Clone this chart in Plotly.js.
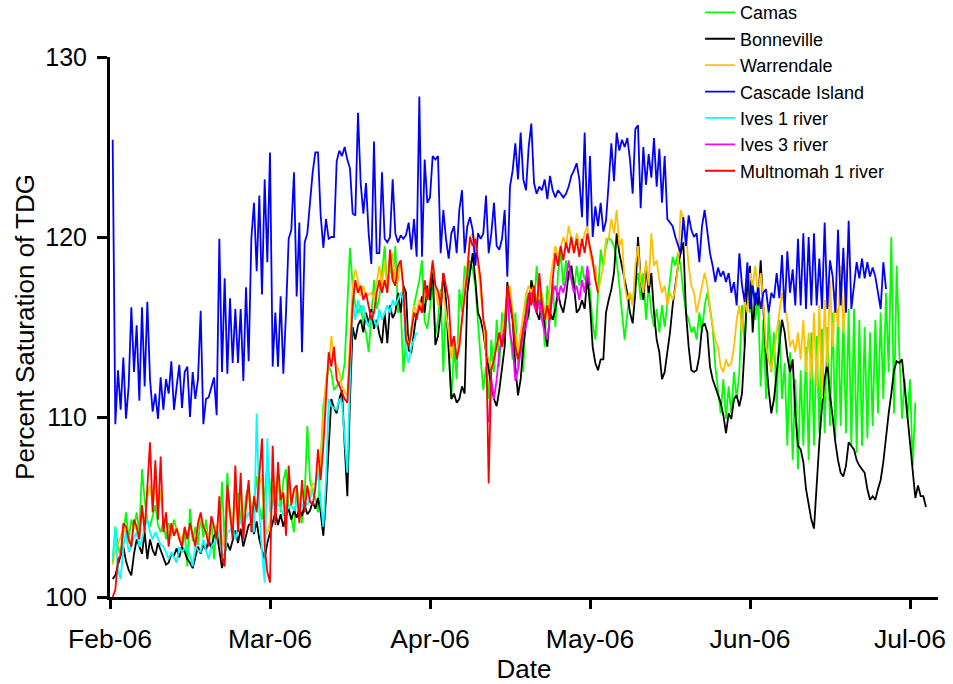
<!DOCTYPE html>
<html><head><meta charset="utf-8">
<script src="https://cdn.plot.ly/plotly-3.0.1.min.js"></script>
<style>html,body{margin:0;padding:0;background:#fff}#chart{width:953px;height:684px}</style>
</head><body><div id="chart"></div>
<script>
// ---- data (12-hourly readings of percent TDG saturation, 2006) ----
const seriesNames = ['Camas','Bonneville','Warrendale','Cascade Island','Ives 1 river','Ives 3 river','Multnomah 1 river'];
const sampleHours = 12;
const seriesStart = ['2006-02-01 12:00','2006-02-01 12:00','2006-02-01 12:00','2006-02-01 12:00','2006-02-01 12:00','2006-04-13 00:00','2006-02-01 12:00'];

const camas = [
101.9,103.9,102.8,102.3,103.5,104.7,103.2,104.3,103.8,104.7,
103.6,107.1,105.4,104.2,103.9,104.6,105.1,104.0,103.6,104.2,
103.2,104.1,103.4,104.3,103.7,103.4,102.8,103.6,101.7,104.9,
103.1,103.9,102.9,104.5,103.3,104.3,103.0,104.4,102.1,104.0,
102.9,106.4,102.8,106.9,104.5,104.1,105.3,105.8,104.3,103.9,
105.6,106.2,104.7,105.4,106.7,105.0,104.3,105.6,107.6,106.2,
105.1,105.8,106.9,104.7,106.5,107.1,104.9,104.4,103.6,106.2,
105.1,104.1,105.6,109.5,106.5,105.8,105.5,104.7,107.5,110.6,
111.7,112.8,112.5,111.5,111.7,111.9,112.1,113.0,116.4,119.4,
117.3,116.2,115.8,116.2,115.2,114.7,113.6,115.8,117.6,116.0,
116.7,118.0,119.5,117.1,118.4,117.6,119.5,115.8,116.2,112.5,
114.3,113.9,114.9,116.2,116.9,117.6,118.7,115.3,114.9,116.0,
117.3,114.5,115.4,117.1,112.5,116.5,113.4,111.0,113.9,112.1,
117.1,115.8,118.4,117.3,118.7,118.2,117.3,115.0,113.2,111.5,
112.8,111.0,114.3,112.5,115.4,112.8,115.8,113.9,116.9,114.7,
113.2,115.8,112.8,114.7,112.5,116.9,115.4,117.6,116.2,118.4,
116.0,116.9,113.9,117.3,115.8,117.6,115.0,118.0,119.1,117.3,
118.7,117.6,118.4,116.9,118.4,117.3,118.4,117.6,118.0,117.0,
115.2,114.3,116.5,119.3,118.4,119.5,120.0,119.8,119.5,118.7,
117.3,115.8,114.3,115.8,116.9,116.2,117.3,118.0,116.5,118.0,
115.4,117.3,115.8,115.0,116.0,114.7,116.2,115.0,116.5,117.6,
118.9,118.4,119.1,118.4,116.9,115.8,115.4,114.7,115.0,114.3,
115.8,114.7,116.2,116.9,116.0,115.0,112.8,111.3,110.2,112.1,
109.9,111.7,110.2,112.5,111.0,112.5,116.2,113.9,117.6,115.8,
117.6,115.4,116.7,111.7,115.4,111.0,115.8,112.5,114.7,110.2,
115.4,111.0,113.0,108.4,113.6,107.6,112.1,107.1,112.6,108.4,
113.9,107.6,114.7,108.4,114.5,109.1,114.9,109.1,115.0,109.5,
115.8,108.8,116.0,109.5,115.8,109.1,116.0,108.4,116.0,108.0,
115.4,108.4,115.0,108.8,114.7,109.5,115.4,110.2,115.8,111.0,
116.9,112.5,120.0,110.2,118.4,113.6,109.9,112.1,109.9,112.1,
107.3,110.8];

const bonneville = [
101.0,101.2,101.8,102.3,102.8,102.0,101.5,101.2,102.4,103.2,
102.8,102.4,103.6,102.1,103.2,102.6,102.3,103.0,102.6,102.2,
101.8,101.9,102.4,102.3,102.7,102.2,102.8,102.5,102.1,101.9,
101.6,102.2,102.8,102.4,102.9,102.6,103.2,102.7,103.4,103.6,
102.6,101.6,102.4,103.0,102.6,103.2,103.7,103.0,103.8,102.8,
103.5,104.0,104.1,103.5,104.2,103.2,102.6,102.1,103.0,103.6,
104.2,104.7,104.0,104.6,103.9,104.5,104.9,104.3,104.8,104.4,
104.9,104.5,105.1,104.6,104.8,105.3,104.9,105.5,104.7,103.4,
105.5,108.4,111.0,110.5,110.2,111.0,111.5,108.4,105.6,111.0,
115.0,114.3,115.1,115.4,114.7,115.8,115.2,116.0,114.9,115.4,
114.6,114.1,115.8,114.1,116.2,115.5,115.8,116.9,115.8,117.3,
116.9,113.7,113.6,114.7,115.8,116.0,116.7,115.8,117.3,116.5,
118.4,114.0,114.5,115.8,118.0,116.5,113.6,111.0,111.3,110.8,
111.0,111.7,111.3,116.9,118.0,119.1,117.6,115.8,115.4,114.7,
113.6,112.6,111.7,111.0,110.6,111.5,112.8,113.9,117.5,116.2,
115.4,112.8,111.2,112.1,113.9,115.2,115.8,117.6,116.9,115.8,
115.4,116.7,115.0,113.9,115.8,115.4,116.0,116.9,116.2,115.8,
116.7,118.0,118.4,117.3,115.8,116.0,116.5,116.0,117.8,116.2,
113.9,113.0,112.6,113.2,113.2,115.8,116.5,117.1,118.0,120.2,
119.1,118.4,117.6,116.9,115.8,115.2,116.9,120.0,117.6,116.5,
118.4,116.9,118.0,115.8,114.3,113.6,112.1,112.5,113.6,114.7,
116.2,117.3,118.4,119.1,119.7,115.8,113.9,112.6,112.5,112.6,
113.4,115.0,115.2,114.7,112.8,112.1,111.7,111.3,110.8,110.1,
109.1,110.2,109.9,111.0,111.2,110.6,111.3,113.9,117.3,118.4,
114.7,116.9,116.2,118.7,115.8,113.4,111.5,110.2,111.0,112.5,
114.3,115.4,114.7,113.4,112.5,113.2,110.2,108.4,108.2,107.5,
106.0,105.1,104.3,103.8,106.5,108.6,110.6,112.1,113.0,111.2,
110.0,108.6,107.6,106.9,106.7,107.3,108.6,108.4,108.2,107.6,
107.3,107.1,106.9,106.0,105.4,105.6,105.4,106.0,106.5,107.5,
109.0,110.2,111.3,112.6,113.1,113.0,113.2,111.6,110.2,108.4,
107.0,105.5,106.2,105.6,105.6,105.0];

const warrendale = [
101.8,102.5,102.9,103.3,103.8,103.6,103.0,103.2,104.0,103.7,
103.5,104.8,104.0,105.6,106.2,105.0,106.5,104.6,106.0,104.0,
104.5,103.3,104.0,103.6,103.9,103.4,103.2,103.8,103.4,104.0,
103.6,103.1,103.9,104.4,103.9,103.7,103.2,104.3,103.9,103.5,
104.9,103.0,102.8,105.5,104.5,103.6,106.2,104.0,106.0,103.8,
105.0,105.9,104.2,105.3,104.9,106.2,106.8,104.0,103.5,104.2,
106.2,105.0,106.5,105.5,105.8,104.5,106.4,105.3,105.8,106.0,
104.9,106.0,105.2,106.0,105.6,106.3,106.3,107.0,107.5,110.0,
112.1,112.8,114.5,113.2,112.8,112.5,111.7,111.4,111.2,114.3,
117.3,118.2,117.6,116.7,117.3,116.7,116.8,116.9,116.5,117.6,
118.4,117.3,118.7,116.9,118.4,119.1,117.3,117.6,118.7,116.9,
114.7,113.9,114.7,116.2,115.8,116.5,115.8,117.3,116.5,117.6,
118.4,117.3,116.2,116.9,116.9,115.8,114.7,113.2,114.3,113.4,
114.3,115.4,117.3,118.4,120.0,120.2,119.9,118.4,117.3,115.4,
113.6,113.2,112.8,113.2,114.0,114.3,114.7,115.8,116.5,117.3,
115.8,114.7,113.6,114.7,115.8,116.8,117.3,116.9,117.3,116.5,
116.7,116.9,115.8,115.4,117.5,118.4,119.5,118.9,119.5,120.0,
119.5,120.6,119.9,119.1,120.2,119.6,119.5,120.2,120.6,119.1,
118.4,118.4,116.9,117.6,118.4,119.9,119.9,121.0,120.2,121.5,
119.5,119.9,117.3,116.5,116.9,116.2,118.4,119.5,117.6,116.9,
118.7,117.3,120.2,118.4,118.7,117.6,116.9,117.3,116.2,116.9,
116.5,117.1,118.4,121.5,121.0,120.2,118.4,117.3,116.9,115.8,
116.5,117.3,118.0,117.3,116.2,115.0,114.3,113.9,112.8,112.5,
113.2,112.8,113.0,113.9,115.4,116.2,114.7,116.5,115.8,118.0,
117.3,118.4,116.7,118.0,116.5,113.9,113.2,112.6,113.6,114.7,
115.8,116.9,116.2,115.4,113.9,114.3,113.6,114.7,113.2,115.4,
112.5,114.7,112.1,115.8,111.7,116.2,111.0,116.5,112.8,117.6,
113.9,116.9,115.0,118.4,114.7,118.0,119.6];

const cascadeIsland = [
125.4,109.6,112.6,110.4,113.3,109.9,111.7,116.1,112.5,115.1,
110.9,116.1,111.7,116.4,112.1,110.3,111.3,109.9,112.2,110.4,
112.1,111.3,113.1,110.4,111.7,112.9,110.5,112.5,112.8,110.0,
112.5,111.0,112.1,115.9,109.6,111.0,111.1,111.6,112.2,110.1,
119.9,112.5,117.7,112.4,116.6,113.0,116.0,113.0,116.0,112.0,
117.2,113.1,119.9,121.9,118.1,122.3,116.8,123.2,118.6,124.7,
112.8,115.8,112.8,116.7,112.4,115.8,119.9,120.4,123.6,116.7,
120.8,113.6,119.7,120.2,122.1,123.6,124.7,124.7,121.2,119.4,
121.0,119.9,120.0,120.0,124.2,124.8,124.5,125.0,124.3,123.8,
121.3,121.2,126.9,123.0,121.3,123.0,120.2,118.5,125.3,119.1,
119.1,123.6,119.9,119.7,120.0,123.2,120.2,119.7,120.1,119.9,
120.1,120.8,119.3,121.0,118.9,127.8,118.9,124.3,121.9,122.2,
124.5,124.3,124.5,119.1,121.5,119.9,118.8,120.2,120.6,119.1,
121.5,122.6,119.1,120.6,121.1,120.4,118.4,120.2,119.9,120.2,
122.3,119.1,120.2,121.9,119.5,119.3,119.9,121.5,117.8,122.8,
123.7,125.2,123.2,125.8,123.2,122.6,125.0,126.3,123.0,122.4,
122.8,122.6,123.2,122.1,123.4,122.6,122.2,122.6,122.4,122.2,
122.4,122.8,123.4,123.7,124.1,123.2,121.1,125.8,120.6,124.5,
120.0,121.7,120.6,121.9,120.3,120.9,123.0,125.2,123.1,125.8,
124.8,125.4,125.0,125.5,124.3,122.4,126.0,126.2,121.6,125.0,
122.9,124.6,123.3,125.5,122.8,124.9,121.9,124.5,121.0,120.8,
120.6,120.0,119.5,119.1,121.1,119.5,121.2,120.4,120.0,120.2,
118.6,120.6,121.5,120.2,119.1,118.4,117.5,118.3,117.8,118.1,
117.5,118.0,116.9,117.5,116.2,119.1,117.3,116.4,118.6,116.0,
117.3,116.2,117.2,116.0,116.9,117.1,115.8,116.9,116.6,118.0,
116.6,119.0,115.8,119.2,116.9,118.2,116.2,119.9,116.2,120.2,
116.0,120.0,116.2,120.2,116.2,118.8,116.0,120.8,116.0,118.7,
117.8,115.8,120.4,116.2,119.4,115.8,120.9,116.0,117.3,118.6,
117.7,118.8,117.7,118.6,117.8,118.3,117.8,116.9,116.0,118.6,
117.1];

const ives1River = [
102.1,103.9,101.4,101.0,102.8,103.6,102.5,102.8,103.3,103.6,
102.8,103.2,103.9,104.3,103.6,103.2,103.6,103.2,102.9,102.8,
102.5,102.1,102.5,102.2,101.9,102.8,102.5,102.7,102.8,102.3,
101.7,102.8,102.6,102.5,103.2,102.6,102.1,102.8,103.0,103.2,
103.6,102.4,102.1,103.6,103.7,103.9,103.2,103.8,104.3,103.6,
104.4,104.7,104.1,103.6,110.2,104.7,102.5,100.8,108.8,104.7,
105.1,105.6,105.1,105.0,104.5,104.7,105.0,105.1,104.8,105.2,
105.4,105.0,105.3,105.1,105.5,105.8,106.2,106.9,105.4,103.9,
106.5,111.0,110.6,110.5,110.4,111.0,110.8,108.8,106.9,112.1,
116.5,115.4,116.5,115.8,116.2,115.4,115.0,115.8,115.4,115.0,
116.0,115.4,115.8,116.2,115.8,116.5,116.2,116.6,116.9,116.5,
113.6,113.0,113.9,114.3,114.7];

const ives3River = [
109.7,112.1,111.0,112.1,113.6,114.3,115.0,116.9,114.7,113.9,
112.0,112.6,113.6,114.7,115.0,116.5,116.9,116.2,115.8,116.5,
115.4,114.7,114.3,115.8,116.9,117.3,116.5,117.3,116.9,117.6,
118.7,117.6,116.9,117.3,116.5,117.6,116.9,118.4,117.3];

const multnomah1River = [
100.0,100.4,102.1,102.3,104.1,103.9,103.2,102.8,104.3,103.9,
103.2,105.1,103.6,105.8,108.6,104.7,107.6,104.3,107.8,103.6,
104.7,102.8,104.1,103.4,103.8,103.2,102.8,103.9,103.2,104.1,
103.5,102.8,104.1,104.7,103.9,103.6,102.8,104.5,103.9,103.2,
105.6,102.1,101.7,106.2,104.7,103.2,107.3,103.6,106.9,103.2,
105.1,106.5,103.6,105.6,104.7,106.9,108.8,102.8,101.4,100.8,
108.4,104.0,107.5,105.4,105.8,103.4,107.3,105.1,106.0,106.2,
104.1,106.5,104.7,106.2,105.3,105.1,106.0,108.2,106.5,108.4,
111.2,113.6,112.8,113.9,112.1,111.7,111.3,111.0,110.8,113.6,
116.2,117.6,116.9,117.3,116.5,116.9,116.2,115.4,115.8,116.9,
117.6,116.9,117.6,116.9,119.3,117.6,117.3,118.4,118.7,117.3,
114.3,113.9,114.7,115.8,115.4,116.2,115.8,117.6,116.5,117.3,
118.7,117.3,117.0,116.2,118.0,117.3,116.5,113.9,114.5,113.2,
113.9,115.4,116.7,118.0,120.0,119.5,119.9,118.7,117.6,115.4,
114.7,106.3,112.6,113.2,113.9,114.7,113.9,114.7,117.3,116.5,
115.4,113.9,113.2,113.9,115.0,115.8,116.9,116.2,117.3,115.8,
118.0,116.2,115.4,116.2,115.4,117.6,119.1,118.4,119.5,118.7,
119.7,119.1,120.0,119.1,119.9,118.9,119.9,119.1,120.2,119.5,
118.7,117.6,116.9];

const tickDates = ['2006-02-01','2006-03-03','2006-04-02','2006-05-02','2006-06-01','2006-07-01'];
const tickLabels = ['Feb-06','Mar-06','Apr-06','May-06','Jun-06','Jul-06'];
const yTicks = [100,110,120,130];

// ---- styles ----
const seriesValues = [camas, bonneville, warrendale, cascadeIsland, ives1River, ives3River, multnomah1River];
const seriesColors = ['#00FF00','#000000','#FFC000','#0000FF','#00FFFF','#FF00FF','#FF0000'];

function timeAxis(start, n){
  const t0 = Date.parse(start.replace(' ','T') + ':00Z');
  const out = [];
  for (let i = 0; i < n; i++) {
    out.push(new Date(t0 + i*sampleHours*3600e3).toISOString().slice(0,16).replace('T',' '));
  }
  return out;
}

const traces = seriesNames.map((name, k) => ({
  type: 'scatter', mode: 'lines', name: name,
  x: timeAxis(seriesStart[k], seriesValues[k].length),
  y: seriesValues[k],
  line: {color: seriesColors[k], width: 1.8}
}));

const FONT = '"Liberation Sans", Arial, Helvetica, sans-serif';
const layout = {
  width: 953, height: 684,
  margin: {l: 110, r: 15, t: 57, b: 87, pad: 0, autoexpand: false},
  paper_bgcolor: '#ffffff', plot_bgcolor: '#ffffff',
  font: {family: FONT, color: '#000000'},
  showlegend: true,
  legend: {xref: 'paper', yref: 'container', x: 0.7126, y: 0.866, xanchor: 'left', yanchor: 'middle',
           font: {size: 18, color: '#000000'}, bgcolor: 'rgba(0,0,0,0)', borderwidth: 0},
  xaxis: {type: 'date', range: ['2006-02-01 00:00','2006-07-06 06:00'], automargin: false,
          tickmode: 'array', tickvals: tickDates, ticktext: tickLabels,
          ticks: 'outside', ticklen: 9, tickwidth: 3, tickcolor: '#000',
          showline: true, linewidth: 3, linecolor: '#000', ticklabelstandoff: 7,
          showgrid: false, zeroline: false, tickfont: {size: 26.5},
          title: {text: 'Date', font: {size: 26}, standoff: 0}},
  yaxis: {range: [100,130], tickmode: 'array', tickvals: yTicks, automargin: false,
          ticks: 'outside', ticklen: 10, tickwidth: 3, tickcolor: '#000',
          showline: true, linewidth: 3, linecolor: '#000',
          showgrid: false, zeroline: false, tickfont: {size: 25}, ticklabelstandoff: 5,
          title: {text: 'Percent Saturation of TDG', font: {size: 26}, standoff: 4}}
};

Plotly.newPlot('chart', traces, layout, {displayModeBar: false, staticPlot: true});
</script></body></html>
